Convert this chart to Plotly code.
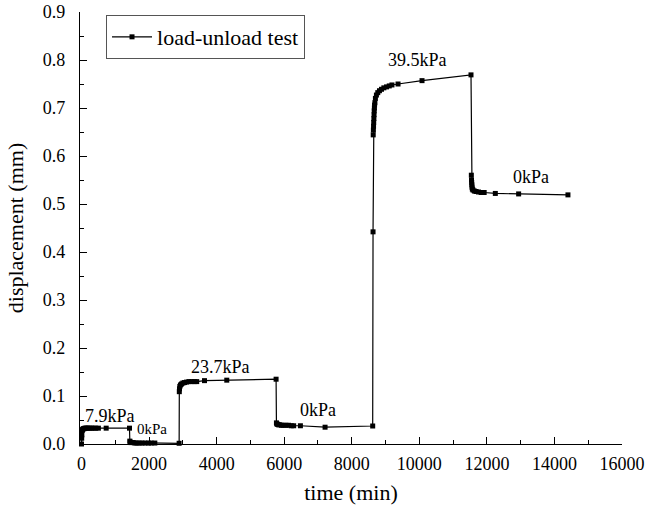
import plotly.graph_objects as go

# time (min)
time_min = [
    0, 5, 10, 20, 30, 40, 60, 80, 100, 130, 160, 200, 250, 300, 360, 420, 500, 730, 1420,
    1430, 1440, 1460, 1490, 1530, 1580, 1640, 1710, 1790, 1880, 1980, 2060, 2170,
    2890, 2895, 2900, 2910, 2930, 2960, 3000, 3050, 3110, 3180, 3260, 3340, 3410, 3640, 4300, 5760,
    5770, 5780, 5800, 5830, 5870, 5920, 5980, 6050, 6130, 6210, 6280, 6480, 7210, 8620,
    8630, 8635, 8640, 8645, 8650, 8655, 8660, 8665, 8670, 8675, 8685, 8700, 8730, 8770, 8820,
    8880, 8950, 9030, 9110, 9190, 9370, 10080, 11530,
    11540, 11545, 11550, 11555, 11560, 11570, 11590, 11630, 11680, 11750, 11830, 11920,
    12250, 12940, 14400,
]
# displacement (mm)
displacement_mm = [
    0.000, 0.012, 0.019, 0.028, 0.030, 0.031, 0.032, 0.032, 0.033, 0.033, 0.033, 0.033, 0.033,
    0.033, 0.033, 0.033, 0.033, 0.033, 0.033,
    0.006, 0.004, 0.003, 0.003, 0.003, 0.002, 0.002, 0.002, 0.002, 0.002, 0.002, 0.002, 0.002,
    0.0015, 0.109, 0.115, 0.120, 0.123, 0.125, 0.127, 0.128, 0.129, 0.130, 0.130, 0.130, 0.130,
    0.132, 0.133, 0.135,
    0.044, 0.042, 0.041, 0.040, 0.040, 0.039, 0.039, 0.039, 0.039, 0.038, 0.038, 0.038, 0.035,
    0.0375,
    0.442, 0.644, 0.654, 0.662, 0.670, 0.678, 0.686, 0.694, 0.700, 0.706, 0.711, 0.720, 0.727,
    0.732, 0.736, 0.739, 0.742, 0.744, 0.746, 0.748, 0.750, 0.757, 0.769,
    0.560, 0.550, 0.545, 0.540, 0.535, 0.531, 0.529, 0.527, 0.526, 0.525, 0.524, 0.524,
    0.522, 0.521, 0.519,
]

series_name = "load-unload test"
stage_labels = ["7.9kPa", "0kPa", "23.7kPa", "0kPa", "39.5kPa", "0kPa"]
label_time = [850, 2090, 4100, 7010, 9940, 13300]
label_disp = [0.058, 0.031, 0.161, 0.071, 0.800, 0.557]
label_size = [18, 15, 18, 18, 18, 18]

x_ticks = [0, 2000, 4000, 6000, 8000, 10000, 12000, 14000, 16000]
y_ticks = [0.0, 0.1, 0.2, 0.3, 0.4, 0.5, 0.6, 0.7, 0.8, 0.9]

FONT = "Times New Roman"

fig = go.Figure()
fig.add_trace(go.Scatter(
    x=time_min, y=displacement_mm, mode="lines+markers", name=series_name,
    line=dict(color="black", width=1.2),
    marker=dict(symbol="square", size=5, color="black"),
    cliponaxis=False,
))

for txt, tx, ty, sz in zip(stage_labels, label_time, label_disp, label_size):
    fig.add_annotation(x=tx, y=ty, text=txt, showarrow=False,
                       font=dict(family=FONT, size=sz, color="black"))

axis_common = dict(
    showgrid=False, zeroline=False, showline=True, linecolor="black", linewidth=1.3,
    ticks="inside", ticklen=7, tickwidth=1.3, tickcolor="black",
    tickfont=dict(family=FONT, size=18, color="black"),
    mirror=False, automargin=False, ticklabeloverflow="allow",
)

fig.update_layout(
    width=645, height=511,
    margin=dict(l=80, r=23, t=12, b=67, autoexpand=False),
    paper_bgcolor="white", plot_bgcolor="white",
    font=dict(family=FONT, color="black"),
    xaxis=dict(
        range=[-45, 16000], tickvals=x_ticks, ticktext=[str(v) for v in x_ticks],
        title=dict(text="time (min)", font=dict(family=FONT, size=22), standoff=11),
        minor=dict(ticks="inside", ticklen=4, dtick=1000, tick0=0, tickcolor="black", showgrid=False),
        ticklabelstandoff=3,
        **axis_common,
    ),
    yaxis=dict(
        range=[0, 0.9], tickvals=y_ticks, ticktext=[f"{v:.1f}" for v in y_ticks],
        title=dict(text="displacement (mm)", font=dict(family=FONT, size=22), standoff=13),
        minor=dict(ticks="inside", ticklen=4, dtick=0.05, tick0=0, tickcolor="black", showgrid=False),
        ticklabelstandoff=10,
        **axis_common,
    ),
    showlegend=True,
    legend=dict(
        x=0.048, y=0.993, xanchor="left", yanchor="top",
        bgcolor="white", bordercolor="#555555", borderwidth=1,
        font=dict(family=FONT, size=22, color="black"),
        itemwidth=40, tracegroupgap=0,
    ),
)

fig.write_html(
    "out.html",
    config={"displayModeBar": False},
    post_script="document.body.style.margin='0';document.body.style.overflow='hidden';",
)
